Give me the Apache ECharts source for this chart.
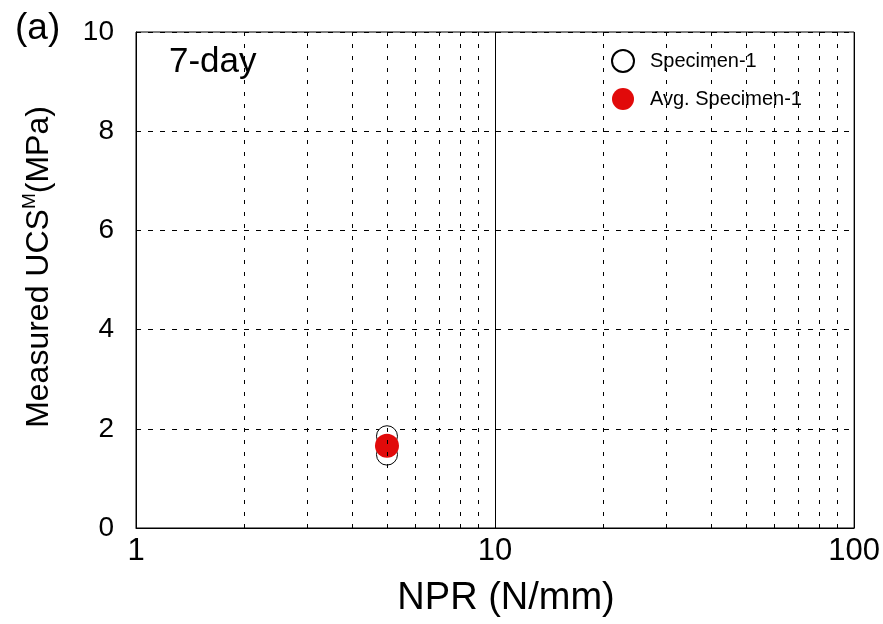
<!DOCTYPE html>
<html>
<head>
<meta charset="utf-8">
<script src="https://cdn.jsdelivr.net/npm/echarts@6/dist/echarts.min.js"></script>
<style>html,body{margin:0;padding:0;background:#fff}#c{width:883px;height:624px}</style>
</head>
<body>
<div id="c"></div>
<script>
// Data
const specimenX = [5, 5, 5];
const specimenY = [1.85, 1.66, 1.48];
const avgX = [5];
const avgY = [1.66];
const minorGridX = [2, 3, 4, 5, 6, 7, 8, 9, 20, 30, 40, 50, 60, 70, 80, 90];
const yTicks = [0, 2, 4, 6, 8, 10];
const xTicks = [1, 10, 100];

const FONT = 'Liberation Sans, Arial, sans-serif';
const chart = echarts.init(document.getElementById('c'), null, {renderer: 'canvas'});

const option = {
  backgroundColor: '#fff',
  animation: false,
  textStyle: {fontFamily: FONT, color: '#000'},
  title: [
    {text: '(a)', left: 10, top: 5, textStyle: {fontSize: 37, fontWeight: 'normal', color: '#000', fontFamily: FONT}},
    {text: '7-day', left: 164, top: 40, textStyle: {fontSize: 35, fontWeight: 'normal', color: '#000', fontFamily: FONT}}
  ],
  legend: {
    orient: 'vertical',
    left: 606, top: 44,
    itemWidth: 22, itemHeight: 22, itemGap: 15,
    data: [
      {name: 'Specimen-1', icon: 'circle'},
      {name: 'Avg. Specimen-1', icon: 'circle'}
    ],
    textStyle: {fontSize: 20, color: '#000', fontFamily: FONT, padding: [0, 0, 0, 11]}
  },
  grid: {left: 136, right: 27, top: 32, bottom: 96, show: true, borderColor: '#000', borderWidth: 1, backgroundColor: 'transparent'},
  xAxis: {
    type: 'log', logBase: 10, min: xTicks[0], max: xTicks[xTicks.length - 1],
    name: 'NPR (N/mm)', nameLocation: 'middle', nameGap: 52,
    nameTextStyle: {fontSize: 38, color: '#000', fontFamily: FONT, padding: [0, 0, 0, 22]},
    axisLine: {lineStyle: {color: '#000', width: 1}},
    axisTick: {show: false},
    axisLabel: {fontSize: 31, color: '#000', margin: 8, fontFamily: FONT},
    splitLine: {show: true, lineStyle: {color: '#000', width: 1, type: 'solid'}},
    minorTick: {show: false}
  },
  yAxis: {
    type: 'value', min: yTicks[0], max: yTicks[yTicks.length - 1], interval: 2,
    name: '{a|Measured UCS}{s|M}{a|(MPa)}', nameLocation: 'middle', nameGap: 78,
    nameTextStyle: {
      fontSize: 32, color: '#000', fontFamily: FONT, padding: [0, 0, 0, 26],
      rich: {
        a: {fontSize: 32, color: '#000', fontFamily: FONT, lineHeight: 38},
        s: {fontSize: 19, color: '#000', fontFamily: FONT, lineHeight: 38, padding: [0, 0, 18, 0]}
      }
    },
    axisLine: {lineStyle: {color: '#000', width: 1}},
    axisTick: {show: true, inside: true, length: 5, lineStyle: {color: '#000'}},
    axisLabel: {fontSize: 28, color: '#000', margin: 22, fontFamily: FONT},
    splitLine: {show: true, lineStyle: {color: '#000', width: 1, type: [5, 7]}}
  },
  series: [
    {
      name: 'minor', type: 'line', data: [], silent: true,
      markLine: {
        silent: true, symbol: 'none', label: {show: false},
        lineStyle: {color: '#000', width: 1, type: [4, 8]},
        data: minorGridX.map(v => ({xAxis: v}))
      }
    },
    {
      name: 'Specimen-1', type: 'scatter', symbol: 'circle', symbolSize: 21,
      itemStyle: {color: '#fff', borderColor: '#000', borderWidth: 1, opacity: 1},
      data: specimenX.map((x, i) => [x, specimenY[i]]), z: 3
    },
    {
      name: 'Avg. Specimen-1', type: 'scatter', symbol: 'circle', symbolSize: 24,
      itemStyle: {color: '#e10a0a', opacity: 1},
      data: avgX.map((x, i) => [x, avgY[i]]), z: 4
    }
  ]
};
chart.setOption(option);
</script>
</body>
</html>
